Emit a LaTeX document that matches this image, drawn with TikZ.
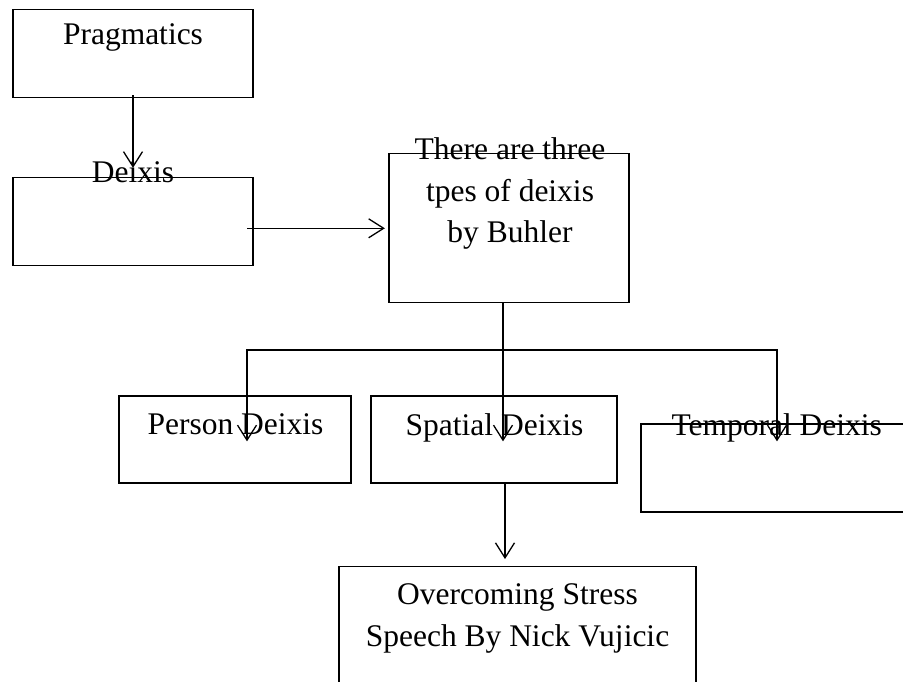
\documentclass[tikz,border=0pt]{standalone}
\usepackage{fontspec}
\setmainfont{Liberation Serif}
\usetikzlibrary{arrows.meta}
\tikzset{
  box/.style={draw, line width=1.3pt, inner sep=0pt},
  label text/.style={anchor=base, inner sep=0pt, align=center, font=\fontsize{31.5}{42}\selectfont},
  arr/.style={line width=1.3pt, -{Straight Barb[length=15pt,width=19pt,line width=1.3pt]}}
}
\begin{document}
\begin{tikzpicture}[x=1pt,y=-1pt]
  \useasboundingbox (0,0) rectangle (903,682);
  \clip (0,0) rectangle (903,682);
  \node[box, minimum width=240pt, minimum height=88pt] (prag) at (133,53.5) {};
  \node[box, minimum width=240pt, minimum height=88pt] (deixis) at (133,221.5) {};
  \node[box, minimum width=240pt, minimum height=149pt] (three) at (509,228.3) {};
  \node[box, minimum width=232pt, minimum height=87pt] (person) at (235,439.5) {};
  \node[box, minimum width=246pt, minimum height=87pt] (spatial) at (494,439.5) {};
  \node[box, minimum width=271pt, minimum height=88pt] (temporal) at (776.5,468) {};
  \node[box, minimum width=357pt, minimum height=134pt] (overcome) at (517.5,633.7) {};
  \node[label text] (prag-text) at (133,45) {Pragmatics};
  \node[label text] (deixis-text) at (133,183) {Deixis};
  \node[label text] (three-text) at (510,243) {There are three\\tpes of deixis\\by Buhler};
  \node[label text] (person-text) at (235.5,434) {Person Deixis};
  \node[label text] (spatial-text) at (494.5,435) {Spatial Deixis};
  \node[label text] (temporal-text) at (776.7,435) {Temporal Deixis};
  \node[label text] (overcome-text) at (517.5,646.5) {Overcoming Stress\\Speech By Nick Vujicic};
  \coordinate (fork) at (503,350);
  \draw[line width=1.3pt] ([xshift=-6pt]three.south) -- (fork);
  \begin{scope}[arr]
    \draw[shorten <=-3pt, shorten >=9pt] (prag) -- (deixis);
    \draw[shorten >=3.5pt] ([xshift=-6.6pt]deixis.east |- three.west) -- (three.west);
    \draw (fork) -| ([xshift=12pt,yshift=-46pt]person.north);
    \draw (fork) -- ([xshift=9pt,yshift=-46pt]spatial.north);
    \draw (fork) -| ([xshift=0.5pt,yshift=-18pt]temporal.north);
    \draw ([xshift=11pt,yshift=1.5pt]spatial.south) -- ([xshift=-12.5pt,yshift=7pt]overcome.north);
  \end{scope}
\end{tikzpicture}
\end{document}
